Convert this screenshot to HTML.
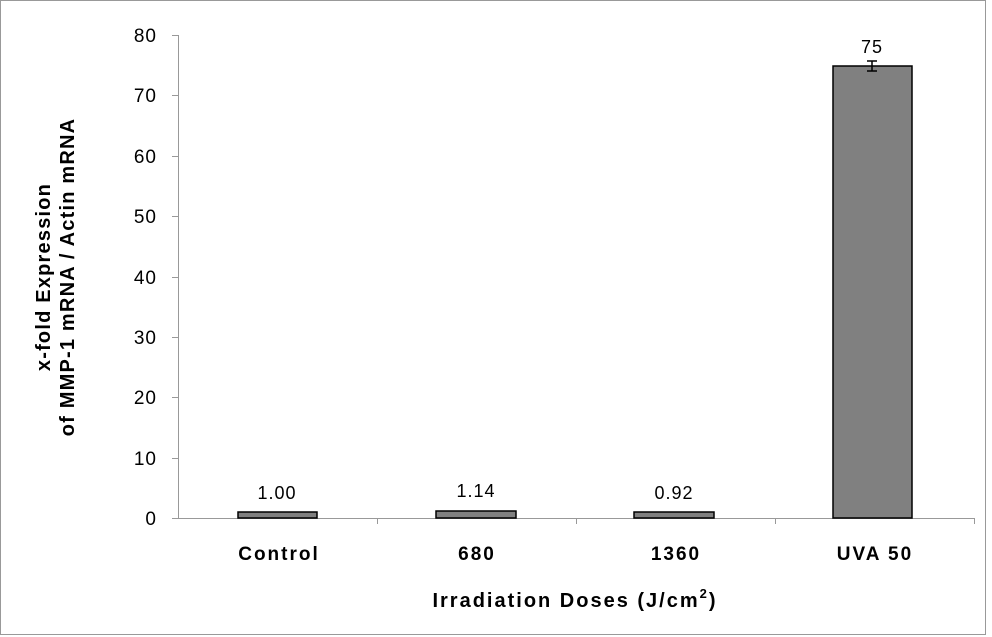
<!DOCTYPE html>
<html><head><meta charset="utf-8"><style>body{margin:0;background:#fff}svg{display:block}</style></head><body>
<svg width="992" height="637" xmlns="http://www.w3.org/2000/svg" font-family="Liberation Sans, Arial, sans-serif">
<rect x="0.5" y="0.5" width="985" height="634" fill="#fff" stroke="#999"/>
<g stroke="#999" stroke-width="1">
<line x1="178.5" y1="35" x2="178.5" y2="518"/>
<line x1="178" y1="518.5" x2="975" y2="518.5"/>
<line x1="172" y1="35.5" x2="178" y2="35.5"/><line x1="172" y1="95.5" x2="178" y2="95.5"/>
<line x1="172" y1="156.5" x2="178" y2="156.5"/><line x1="172" y1="216.5" x2="178" y2="216.5"/>
<line x1="172" y1="277.5" x2="178" y2="277.5"/><line x1="172" y1="337.5" x2="178" y2="337.5"/>
<line x1="172" y1="397.5" x2="178" y2="397.5"/><line x1="172" y1="458.5" x2="178" y2="458.5"/>
<line x1="172" y1="518.5" x2="178" y2="518.5"/>
<line x1="377.5" y1="518" x2="377.5" y2="524"/><line x1="576.5" y1="518" x2="576.5" y2="524"/>
<line x1="775.5" y1="518" x2="775.5" y2="524"/><line x1="974.5" y1="518" x2="974.5" y2="524"/>
</g>
<g font-size="19" fill="#000" text-anchor="end" letter-spacing="1">
<text x="157" y="42">80</text><text x="157" y="102">70</text><text x="157" y="163">60</text>
<text x="157" y="223">50</text><text x="157" y="284">40</text><text x="157" y="344">30</text>
<text x="157" y="404">20</text><text x="157" y="465">10</text><text x="157" y="525">0</text>
</g>
<g fill="#808080" stroke="#000" stroke-width="1.5">
<rect x="238" y="512" width="79" height="6"/>
<rect x="436" y="511" width="80" height="7"/>
<rect x="634" y="512" width="80" height="6"/>
<rect x="833" y="66" width="79" height="452"/>
</g>
<g stroke="#000" stroke-width="1.5">
<line x1="872" y1="61" x2="872" y2="71"/><line x1="867" y1="61" x2="877" y2="61"/><line x1="867" y1="71" x2="877" y2="71"/>
</g>
<g font-size="18" fill="#000" text-anchor="middle" letter-spacing="1">
<text x="277" y="499">1.00</text><text x="476" y="497">1.14</text>
<text x="674" y="499">0.92</text><text x="872" y="53">75</text>
</g>
<g font-size="19" font-weight="bold" fill="#000" text-anchor="middle" letter-spacing="2">
<text x="279" y="560">Control</text><text x="477" y="560">680</text>
<text x="676" y="560">1360</text><text x="875" y="560">UVA 50</text>
</g>
<text x="575" y="607" font-size="20" font-weight="bold" text-anchor="middle" letter-spacing="2">Irradiation Doses (J/cm<tspan dy="-9" font-size="13">2</tspan><tspan dy="9">)</tspan></text>
<g font-size="20" font-weight="bold" fill="#000" text-anchor="middle" letter-spacing="1.2">
<text transform="translate(50,277) rotate(-90)">x-fold Expression</text>
<text transform="translate(74,277) rotate(-90)">of MMP-1 mRNA / Actin mRNA</text>
</g>
</svg>
</body></html>
